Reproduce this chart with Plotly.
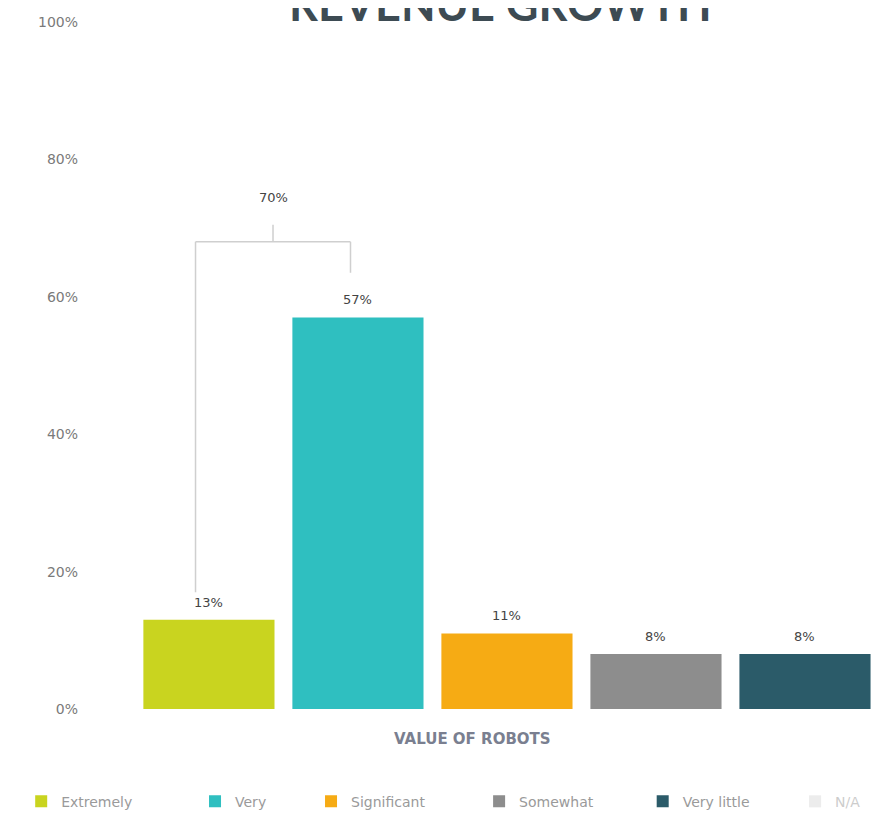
import plotly.graph_objects as go

categories = ["Extremely", "Very", "Significant", "Somewhat", "Very little", "N/A"]
values = [13, 57, 11, 8, 8, 3]
value_labels = ["13%", "57%", "11%", "8%", "8%", "3%"]
colors = ["#c9d41f", "#2fbfc0", "#f6ab14", "#8d8d8d", "#2b5b69", "#d9d9d9"]
bracket_label = "70%"
y_ticks = [0, 20, 40, 60, 80, 100]
y_tick_labels = ["0%", "20%", "40%", "60%", "80%", "100%"]

# legend box positions (paper x) for each entry
legend_x = [-0.147, 0.0857, 0.241, 0.466, 0.685, 0.889]

fig = go.Figure()
legend_layouts = {}
for i, (c, v, col) in enumerate(zip(categories, values, colors)):
    lname = "legend" if i == 0 else f"legend{i + 1}"
    fig.add_trace(go.Bar(
        x=[i], y=[v], name=c, marker_color=col, width=0.88,
        marker_line_width=0,
        visible=("legendonly" if c == "N/A" else True),
        hoverinfo="skip", legend=lname,
    ))
    legend_layouts[lname] = dict(
        orientation="h", x=legend_x[i], y=-0.135, xanchor="left", yanchor="middle",
        font=dict(size=14, color="#9a9a9a", family="DejaVu Sans"),
        bgcolor="rgba(0,0,0,0)",
    )
    if c != "N/A":
        fig.add_annotation(x=i, y=v, text=value_labels[i], showarrow=False,
                           yanchor="bottom", yshift=8,
                           font=dict(size=13, color="#444444", family="DejaVu Sans"))

# bracket between Extremely and Very
v0, v1 = values[0], values[1]
top = v1 + 11
xl, xr = 0 - 0.09, 1 - 0.05
xm = (xl + xr) / 2
line = dict(color="#cfcfcf", width=1.5)
fig.add_shape(type="line", x0=xl, x1=xl, y0=v0 + 4, y1=top, line=line)
fig.add_shape(type="line", x0=xl, x1=xr, y0=top, y1=top, line=line)
fig.add_shape(type="line", x0=xr, x1=xr, y0=top, y1=v1 + 6.5, line=line)
fig.add_shape(type="line", x0=xm, x1=xm, y0=top, y1=top + 2.5, line=line)
fig.add_annotation(x=xm, y=top + 6.5, text=bracket_label, showarrow=False,
                   yanchor="middle", font=dict(size=13, color="#444444", family="DejaVu Sans"))

# title
fig.add_annotation(xref="paper", yref="paper", x=0.494, y=0.984, text="<b>REVENUE GROWTH</b>",
                   showarrow=False, yanchor="bottom",
                   font=dict(size=45, color="#3d4b53", family="Lato"))
# x-axis title
fig.add_annotation(xref="paper", yref="paper", x=0.4565, y=-0.043, text="<b>VALUE OF ROBOTS</b>",
                   showarrow=False, yanchor="middle",
                   font=dict(size=15, color="#7a7f90", family="DejaVu Sans"))

fig.update_layout(
    width=870, height=810,
    margin=dict(l=123, r=0, t=14, b=102),
    paper_bgcolor="white", plot_bgcolor="white",
    barmode="overlay",
    showlegend=True,
    xaxis=dict(range=[-0.523, 4.49], showticklabels=False, showgrid=False,
               zeroline=False, showline=False, ticks=""),
    yaxis=dict(range=[0, 100], tickvals=y_ticks, ticktext=y_tick_labels,
               showgrid=False, zeroline=False, showline=False,
               ticklabelstandoff=52,
               tickfont=dict(size=14, color="#7a7a7a", family="DejaVu Sans")),
    **legend_layouts,
)

fig.write_html("out.html")
